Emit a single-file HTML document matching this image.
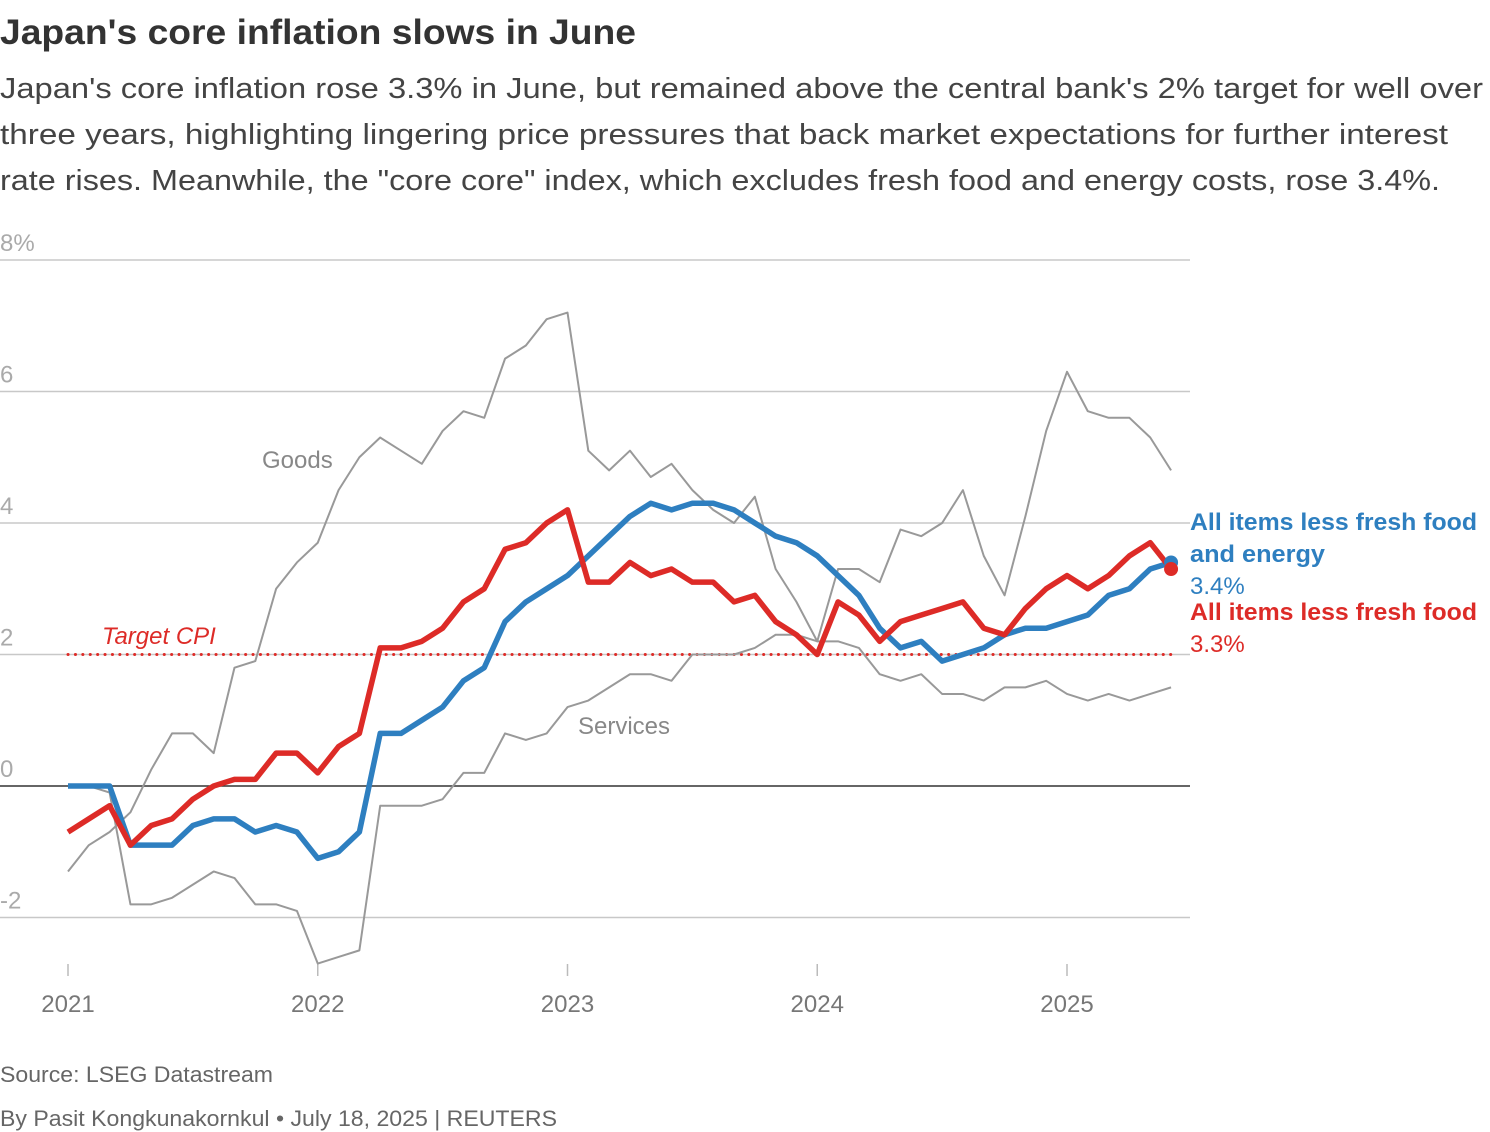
<!DOCTYPE html>
<html><head><meta charset="utf-8"><style>
body{margin:0;background:#fff;width:1490px;height:1132px;overflow:hidden;font-family:"Liberation Sans",sans-serif;}
svg{position:absolute;left:0;top:0}
</style></head><body>
<svg id="c" width="1490" height="1132">
<text x="0" y="44" font-size="35" font-weight="bold" fill="#333" textLength="636" lengthAdjust="spacingAndGlyphs">Japan's core inflation slows in June</text>
<g font-size="29" fill="#444">
<text x="0" y="98" textLength="1483" lengthAdjust="spacingAndGlyphs">Japan's core inflation rose 3.3% in June, but remained above the central bank's 2% target for well over</text>
<text x="0" y="144" textLength="1448" lengthAdjust="spacingAndGlyphs">three years, highlighting lingering price pressures that back market expectations for further interest</text>
<text x="0" y="190" textLength="1440" lengthAdjust="spacingAndGlyphs">rate rises. Meanwhile, the "core core" index, which excludes fresh food and energy costs, rose 3.4%.</text>
</g>
<g id="grid"></g>
<g id="series"></g>
<g font-size="24">
<text x="1190" y="530" font-weight="bold" fill="#2e7fc0" textLength="287" lengthAdjust="spacingAndGlyphs">All items less fresh food</text>
<text x="1190" y="562" font-weight="bold" fill="#2e7fc0" textLength="135" lengthAdjust="spacingAndGlyphs">and energy</text>
<text x="1190" y="594" fill="#2e7fc0">3.4%</text>
<text x="1190" y="620" font-weight="bold" fill="#dd2b27" textLength="287" lengthAdjust="spacingAndGlyphs">All items less fresh food</text>
<text x="1190" y="652" fill="#dd2b27">3.3%</text>
<text x="262" y="468" fill="#888">Goods</text>
<text x="578" y="734" fill="#888">Services</text>
<text x="102" y="644" fill="#dd2b27" font-style="italic">Target CPI</text>
</g>
<text x="0" y="1082" font-size="22" fill="#666" textLength="273" lengthAdjust="spacingAndGlyphs">Source: LSEG Datastream</text>
<text x="0" y="1126" font-size="22" fill="#666" textLength="557" lengthAdjust="spacingAndGlyphs">By Pasit Kongkunakornkul • July 18, 2025 | REUTERS</text>
</svg>
<script>
const yTicks=[8,6,4,2,0,-2];
const yTickLabels=["8%","6","4","2","0","-2"];
const years=[2021,2022,2023,2024,2025];
const core=[-0.7,-0.5,-0.3,-0.9,-0.6,-0.5,-0.2,0.0,0.1,0.1,0.5,0.5,
0.2,0.6,0.8,2.1,2.1,2.2,2.4,2.8,3.0,3.6,3.7,4.0,
4.2,3.1,3.1,3.4,3.2,3.3,3.1,3.1,2.8,2.9,2.5,2.3,
2.0,2.8,2.6,2.2,2.5,2.6,2.7,2.8,2.4,2.3,2.7,3.0,
3.2,3.0,3.2,3.5,3.7,3.3];
const coreCore=[0.0,0.0,0.0,-0.9,-0.9,-0.9,-0.6,-0.5,-0.5,-0.7,-0.6,-0.7,
-1.1,-1.0,-0.7,0.8,0.8,1.0,1.2,1.6,1.8,2.5,2.8,3.0,
3.2,3.5,3.8,4.1,4.3,4.2,4.3,4.3,4.2,4.0,3.8,3.7,
3.5,3.2,2.9,2.4,2.1,2.2,1.9,2.0,2.1,2.3,2.4,2.4,
2.5,2.6,2.9,3.0,3.3,3.4];
const goods=[-1.3,-0.9,-0.7,-0.4,0.25,0.8,0.8,0.5,1.8,1.9,3.0,3.4,
3.7,4.5,5.0,5.3,5.1,4.9,5.4,5.7,5.6,6.5,6.7,7.1,
7.2,5.1,4.8,5.1,4.7,4.9,4.5,4.2,4.0,4.4,3.3,2.8,
2.2,3.3,3.3,3.1,3.9,3.8,4.0,4.5,3.5,2.9,4.1,5.4,
6.3,5.7,5.6,5.6,5.3,4.8];
const services=[0.0,0.0,-0.1,-1.8,-1.8,-1.7,-1.5,-1.3,-1.4,-1.8,-1.8,-1.9,
-2.7,-2.6,-2.5,-0.3,-0.3,-0.3,-0.2,0.2,0.2,0.8,0.7,0.8,
1.2,1.3,1.5,1.7,1.7,1.6,2.0,2.0,2.0,2.1,2.3,2.3,
2.2,2.2,2.1,1.7,1.6,1.7,1.4,1.4,1.3,1.5,1.5,1.6,
1.4,1.3,1.4,1.3,1.4,1.5];
const target=2;
const NS="http://www.w3.org/2000/svg";
const X=i=>68+i*(249.75/12);
const Y=v=>786-v*65.75;
const grid=document.getElementById('grid'),ser=document.getElementById('series');
function mk(tag,attrs,parent){const e=document.createElementNS(NS,tag);for(const k in attrs)e.setAttribute(k,attrs[k]);parent.appendChild(e);return e;}
yTicks.forEach((v,i)=>{
 const l=mk('line',{x1:0,x2:1190,y1:Y(v),y2:Y(v),stroke:v===0?'#333':'#c8c8c8','stroke-width':v===0?1.6:1.5},grid);
 
 
 const t=mk('text',{x:0,y:Y(v)-9,'font-size':24,fill:'#aaa'},grid);
 t.textContent=yTickLabels[i];
 
 
});
years.forEach((yr,i)=>{
 const x=X(i*12);
 const l=mk('line',{x1:x,x2:x,y1:964,y2:976,stroke:'#bbb','stroke-width':1.5},grid);
 
 
 const t=mk('text',{x:x,y:1012,'font-size':24,fill:'#777','text-anchor':'middle'},grid);
 t.textContent=yr;
 
 
});
const tl=mk('line',{x1:X(0),x2:X(53),y1:Y(target),y2:Y(target),stroke:'#dd2b27','stroke-width':3,'stroke-dasharray':'0.1 7.3','stroke-linecap':'round'},ser);


function line(arr,color,w,name){
 const p=mk('polyline',{points:arr.map((v,i)=>X(i)+','+Y(v)).join(' '),fill:'none',stroke:color,'stroke-width':w,'stroke-linejoin':'round'},ser);
 
 
}
line(goods,'#999',2,'goods-line');
line(services,'#999',2,'services-line');
line(coreCore,'#2e7fc0',5.5,'core-core-line');
line(core,'#dd2b27',5.5,'core-line');
const d1=mk('circle',{cx:X(coreCore.length-1),cy:Y(coreCore[coreCore.length-1]),r:7,fill:'#2e7fc0'},ser);


const d2=mk('circle',{cx:X(core.length-1),cy:Y(core[core.length-1]),r:7,fill:'#dd2b27'},ser);


</script>
</body></html>
